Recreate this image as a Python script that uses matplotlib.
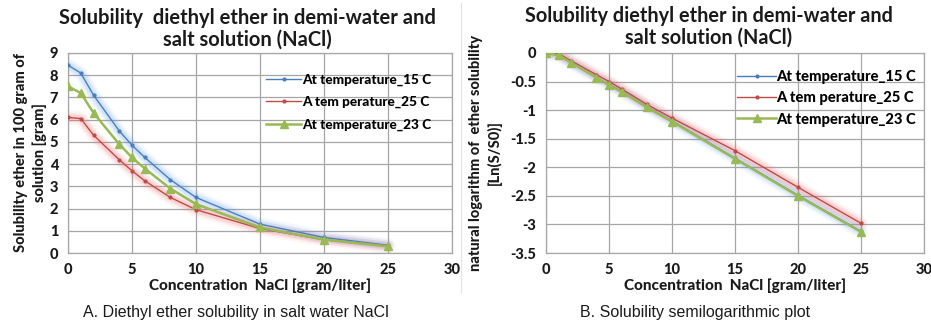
import matplotlib

matplotlib.use("Agg")
import matplotlib.pyplot as plt
import numpy as np

BLUE = "#4a7ebb"
RED = "#be4b48"
GREEN = "#98b954"
GRID = "#a6a6a6"
INK = "#1a1a1a"
HEAVY = 900

plt.rcParams["font.family"] = ["Lato", "DejaVu Sans"]
plt.rcParams["font.weight"] = HEAVY

# NaCl concentration [gram/liter]
conc = [0, 1, 2, 4, 5, 6, 8, 10, 15, 20, 25]

# solubility in 100 gram of solution [gram]
sol_15 = [8.45, 8.1, 7.1, 5.5, 4.85, 4.3, 3.3, 2.5, 1.3, 0.7, 0.35]
sol_25 = [6.1, 6.05, 5.3, 4.2, 3.7, 3.25, 2.5, 1.95, 1.1, 0.6, 0.3]
sol_23 = [7.5, 7.2, 6.3, 4.9, 4.3, 3.8, 2.9, 2.2, 1.15, 0.6, 0.3]

# ln(S/S0)
ln_15 = [0.0, -0.04, -0.17, -0.43, -0.55, -0.67, -0.94, -1.19, -1.84, -2.49, -3.12]
ln_25 = [0.0, -0.01, -0.14, -0.38, -0.50, -0.63, -0.90, -1.14, -1.71, -2.35, -2.98]
ln_23 = [0.0, -0.04, -0.17, -0.43, -0.56, -0.68, -0.95, -1.20, -1.85, -2.50, -3.13]

labels = ["At temperature_15 C", "A tem perature_25 C", "At temperature_23 C"]

TITLE = "Solubility  diethyl ether in demi-water and\nsalt solution (NaCl)"
TITLE_B = "Solubility diethyl ether in demi-water and\nsalt solution (NaCl)"


def glow(ax, x, y, color):
    for lw, a in [(10, 0.06), (7, 0.10), (4.5, 0.14)]:
        ax.plot(x, y, color=color, lw=lw, alpha=a, solid_capstyle="round", zorder=2)


def style(ax):
    ax.set_xlim(0, 30)
    ax.set_xticks(np.arange(0, 31, 5))
    ax.grid(True, color=GRID, lw=0.9)
    ax.set_axisbelow(True)
    for s in ax.spines.values():
        s.set_color(GRID)
        s.set_linewidth(0.9)
    ax.tick_params(length=0, pad=7, labelsize=10.5, colors=INK)
    for t in ax.get_xticklabels() + ax.get_yticklabels():
        t.set_fontweight(HEAVY)
    ax.set_xlabel("Concentration  NaCl [gram/liter]", fontsize=11, color=INK,
                  labelpad=1, fontweight=HEAVY)


def draw(ax, s15, s25, s23):
    glow(ax, conc, s15, "#5b9bf0")
    glow(ax, conc, s25, "#f06060")
    ax.plot(conc, s15, color=BLUE, lw=1.0, marker="o", ms=2, zorder=4, label=labels[0])
    ax.plot(conc, s25, color=RED, lw=1.0, marker="o", ms=2, zorder=4, label=labels[1])
    ax.plot(conc, s23, color=GREEN, lw=1.8, marker="^", ms=6, zorder=5, label=labels[2])


def legend(ax, x, top, size, spacing):
    ax.legend(loc="upper right", bbox_to_anchor=(x, top), frameon=False,
              prop=dict(size=size, weight=HEAVY), handlelength=2.6,
              handletextpad=0.05, labelspacing=spacing, borderaxespad=0)


fig = plt.figure(figsize=(9.31, 3.25), dpi=100)

axA = fig.add_axes([0.073, 0.2215, 0.4125, 0.6155])
draw(axA, sol_15, sol_25, sol_23)
axA.set_ylim(0, 9)
axA.set_yticks(np.arange(0, 10, 1))
style(axA)
axA.set_ylabel("Solubility ether in 100 gram of\nsolution [gram]", fontsize=10.5,
               color=INK, labelpad=2, linespacing=1.35, fontweight=HEAVY)
axA.set_title(TITLE, fontsize=14.5, color=INK, pad=5, linespacing=1.1,
              fontweight="bold", x=0.467)
legend(axA, 0.96, 0.925, 9.8, 0.75)

axB = fig.add_axes([0.5865, 0.2215, 0.406, 0.6155])
draw(axB, ln_15, ln_25, ln_23)
axB.set_ylim(-3.5, 0)
yt = np.arange(-3.5, 0.01, 0.5)
axB.set_yticks(yt)
axB.set_yticklabels([f"{v:g}" for v in yt])
style(axB)
axB.set_ylabel("natural logarithm of  ether solubility\n[Ln(S/S0)]", fontsize=10.5,
               color=INK, labelpad=6, linespacing=1.35, fontweight=HEAVY)
axB.set_title(TITLE_B, fontsize=14.3, color=INK, pad=7, linespacing=1.05,
              fontweight="bold", x=0.43)
legend(axB, 0.995, 0.945, 10.6, 0.5)

# separator between the two chart areas
fig.add_artist(plt.Line2D([0.495, 0.495], [0.1, 0.99], color="#e3e3e3", lw=0.8))

fig.text(0.253, 0.025, "A. Diethyl ether solubility in salt water NaCl",
         ha="center", fontsize=11.5, family="Liberation Sans", fontweight="normal", color=INK)
fig.text(0.747, 0.025, "B. Solubility semilogarithmic plot",
         ha="center", fontsize=11.5, family="Liberation Sans", fontweight="normal", color=INK)

fig.savefig("out.png", dpi=100, facecolor="white")
